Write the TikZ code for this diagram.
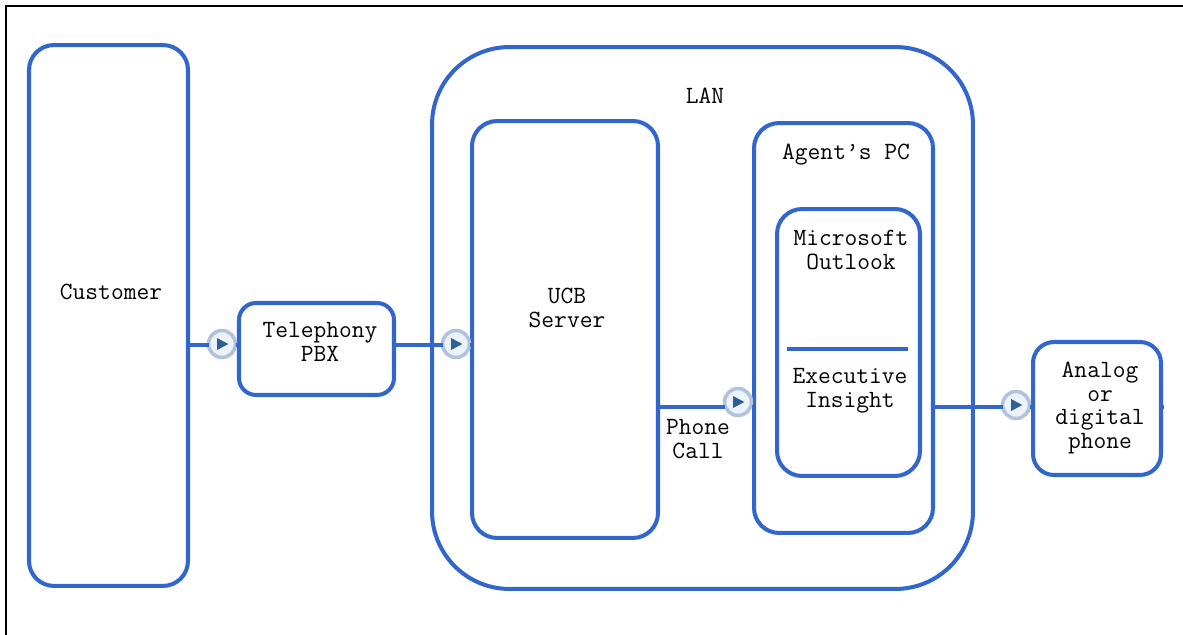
\documentclass[tikz,border=0pt]{standalone}
\definecolor{boxblue}{RGB}{51,102,204}
\definecolor{playring}{RGB}{176,194,220}
\definecolor{playfill}{RGB}{236,242,250}
\definecolor{playdark}{RGB}{44,96,150}
\tikzset{
sysbox/.style={draw=boxblue,rectangle,line width=2.3pt},
boxtext/.style={font=\ttfamily\fontsize{14.1}{13.6}\selectfont,align=center,text=black},
playicon/.style={draw=playring,fill=playfill,circle,line width=2pt,minimum size=0.54cm,
  path picture={\fill[playdark] ([shift={(-2.8pt,3.4pt)}]path picture bounding box.center)
  -- ++(6.4pt,-3.4pt) -- ++(-6.4pt,-3.4pt) -- cycle;}}
}
\begin{document}
\begin{tikzpicture}[x=0.02cm,y=-0.02cm,inner sep=0pt,outer sep=0pt]
\useasboundingbox (0,0) rectangle (1183,635);
% frame, only two sides show
\coordinate (frameTL) at (6,6);
\coordinate (frameTR) at (1183,6);
\coordinate (frameBL) at (6,635);
\draw[line width=1.1pt] (frameBL) -- (frameTL) -- (frameTR);
% boxes
\draw (108.5,315.5) node[sysbox,rounded corners=0.5cm,minimum width=3.18cm,minimum height=10.82cm] (customer) {};
\draw (316.5,349) node[sysbox,rounded corners=0.34cm,minimum width=3.1cm,minimum height=1.84cm] (pbx) {};
\draw (702.5,318) node[sysbox,rounded corners=1.55cm,minimum width=10.82cm,minimum height=10.84cm] (lan) {};
\draw (565,329.5) node[sysbox,rounded corners=0.5cm,minimum width=3.72cm,minimum height=8.34cm] (ucb) {};
\draw (843.5,328) node[sysbox,rounded corners=0.5cm,minimum width=3.58cm,minimum height=8.2cm] (agentpc) {};
\draw (848.5,342.5) node[sysbox,rounded corners=0.5cm,minimum width=2.86cm,minimum height=5.34cm] (apps) {};
\draw (1097,408.5) node[sysbox,rounded corners=0.42cm,minimum width=2.56cm,minimum height=2.66cm] (phone) {};
% divider inside apps box
\coordinate (divL) at (787,349);
\coordinate (divR) at (908,349);
\draw[boxblue,line width=2.3pt] (divL) -- (divR);
% play icons
\node[playicon] (playA) at (222,344) {};
\node[playicon] (playB) at (456,344) {};
\node[playicon] (playC) at (738,402) {};
\node[playicon] (playD) at (1016,405) {};
% connectors
\coordinate (rowA) at (0,345);
\coordinate (rowB) at (0,407);
\begin{scope}[boxblue,line width=2.3pt]
\draw (customer.east |- rowA) -- (playA.west |- rowA);
\draw (playA.east |- rowA) -- (pbx.west |- rowA);
\draw (pbx.east |- rowA) -- (playB.west |- rowA);
\draw (playB.east |- rowA) -- (ucb.west |- rowA);
\draw (ucb.east |- rowB) -- (playC.west |- rowB);
\draw (playC.east |- rowB) -- (agentpc.west |- rowB);
\draw (agentpc.east |- rowB) -- (playD.west |- rowB);
\draw (playD.east |- rowB) -- (phone.west |- rowB);
\draw (phone.east |- rowB) -- ++(3,0);
\end{scope}
% labels
\node[boxtext] (lblCustomer) at (111,292) {Customer};
\node[boxtext] (lblPbx) at (320,342) {Telephony\\PBX};
\node[boxtext] (lblLan) at (705,96) {LAN};
\node[boxtext] (lblUcb) at (567,308) {UCB\\Server};
\node[boxtext] (lblCall) at (698,439) {Phone\\Call};
\node[boxtext] (lblAgent) at (846,155) {Agent’s PC};
\node[boxtext] (lblOutlook) at (851,250) {Microsoft\\Outlook};
\node[boxtext] (lblInsight) at (850,391) {Executive\\Insight};
\node[boxtext] (lblPhone) at (1100,408) {Analog\\or\\digital\\phone};
\end{tikzpicture}
\end{document}
